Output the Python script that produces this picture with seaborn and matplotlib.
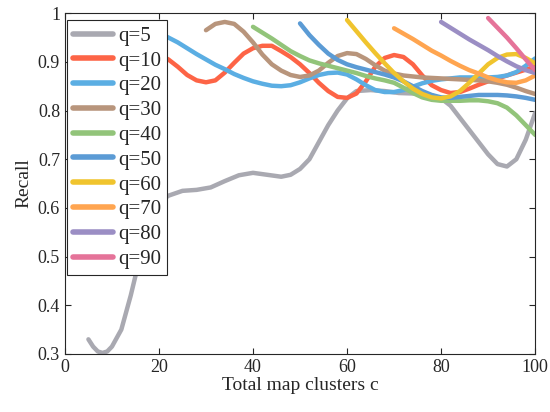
import numpy as np
import pandas as pd
import seaborn as sns
import matplotlib.pyplot as plt

# recall curves, one per q (start at c = q)
x5 = [5, 6, 7, 8, 9, 10, 12, 14, 16, 18, 20, 22, 25, 28, 31, 34, 37, 40, 43, 46, 48, 50, 52, 54, 56, 58,
      60, 62, 65, 68, 71, 74, 77, 80, 82, 84, 86, 88, 90, 92, 94, 96, 98, 100]
y5 = [0.33, 0.315, 0.305, 0.302, 0.305, 0.315, 0.35, 0.42, 0.50, 0.57, 0.61, 0.625, 0.635, 0.637, 0.642,
      0.655, 0.667, 0.672, 0.668, 0.664, 0.668, 0.68, 0.70, 0.735, 0.77, 0.80, 0.825, 0.84, 0.842, 0.84,
      0.836, 0.835, 0.834, 0.825, 0.81, 0.785, 0.76, 0.735, 0.71, 0.69, 0.685, 0.70, 0.74, 0.795]

x10 = list(range(10, 101, 2))
y10 = [0.96, 0.965, 0.955, 0.94, 0.925, 0.915, 0.905, 0.89, 0.873, 0.862, 0.858, 0.862, 0.878, 0.898,
       0.917, 0.928, 0.933, 0.933, 0.922, 0.91, 0.895, 0.877, 0.857, 0.84, 0.828, 0.826, 0.835, 0.86,
       0.89, 0.908, 0.914, 0.91, 0.895, 0.872, 0.852, 0.842, 0.836, 0.838, 0.845, 0.853, 0.86, 0.866,
       0.872, 0.878, 0.884, 0.89]

x20 = list(range(20, 101, 2))
y20 = [0.96, 0.95, 0.94, 0.928, 0.916, 0.905, 0.894, 0.885, 0.875, 0.867, 0.86, 0.855, 0.851, 0.85,
       0.852, 0.858, 0.866, 0.873, 0.877, 0.878, 0.874, 0.864, 0.852, 0.842, 0.838, 0.838, 0.842, 0.849,
       0.856, 0.861, 0.864, 0.866, 0.868, 0.868, 0.868, 0.868, 0.869, 0.872, 0.879, 0.892, 0.907]

x30 = list(range(30, 101, 2))
y30 = [0.965, 0.978, 0.982, 0.978, 0.962, 0.94, 0.915, 0.895, 0.882, 0.873, 0.869, 0.872, 0.882, 0.898,
       0.912, 0.918, 0.916, 0.906, 0.893, 0.882, 0.876, 0.872, 0.87, 0.868, 0.867, 0.866, 0.865, 0.864,
       0.863, 0.862, 0.86, 0.857, 0.853, 0.847, 0.84, 0.834]

x40 = list(range(40, 101, 2))
y40 = [0.972, 0.96, 0.948, 0.935, 0.922, 0.912, 0.903, 0.897, 0.892, 0.887, 0.882, 0.877, 0.871, 0.866,
       0.862, 0.857, 0.847, 0.836, 0.827, 0.822, 0.82, 0.82, 0.82, 0.821, 0.821, 0.819, 0.815, 0.806,
       0.79, 0.77, 0.75]

x50 = list(range(50, 101, 2))
y50 = [0.979, 0.955, 0.935, 0.917, 0.904, 0.895, 0.889, 0.884, 0.879, 0.874, 0.868, 0.86, 0.85, 0.84,
       0.832, 0.827, 0.826, 0.828, 0.83, 0.832, 0.832, 0.832, 0.831, 0.829, 0.826, 0.822]

x60 = list(range(60, 101, 2))
y60 = [0.986, 0.963, 0.94, 0.918, 0.897, 0.877, 0.86, 0.845, 0.834, 0.827, 0.825, 0.829, 0.84, 0.857,
       0.876, 0.895, 0.908, 0.915, 0.916, 0.908, 0.897]

x70 = list(range(70, 101, 2))
y70 = [0.969, 0.958, 0.947, 0.935, 0.923, 0.913, 0.902, 0.892, 0.883, 0.876, 0.868, 0.862, 0.858, 0.857,
       0.862, 0.872]

x80 = list(range(80, 101, 2))
y80 = [0.982, 0.97, 0.958, 0.946, 0.935, 0.924, 0.912, 0.901, 0.891, 0.883, 0.877]

x90 = list(range(90, 101, 2))
y90 = [0.99, 0.97, 0.95, 0.928, 0.905, 0.883]

labels = ["q=5", "q=10", "q=20", "q=30", "q=40", "q=50", "q=60", "q=70", "q=80", "q=90"]
xs = [x5, x10, x20, x30, x40, x50, x60, x70, x80, x90]
ys = [y5, y10, y20, y30, y40, y50, y60, y70, y80, y90]
colors = ["#A9A9B1", "#FD6446", "#5BAEE3", "#B8957C", "#92C47A",
          "#5B9BD5", "#F0C42E", "#FFA550", "#9B8EC4", "#E57399"]

df = pd.concat([pd.DataFrame({"c": x, "recall": y, "q": lab})
                for x, y, lab in zip(xs, ys, labels)], ignore_index=True)

sns.set_style("ticks")
plt.rcParams['font.family'] = ['Liberation Serif', 'DejaVu Serif']

fig = plt.figure(figsize=(5.5, 4.12), dpi=100)
ax = fig.add_axes([0.118, 0.141, 0.855, 0.827])

sns.lineplot(data=df, x="c", y="recall", hue="q", hue_order=labels, palette=colors,
             sort=False, estimator=None, linewidth=3.2, ax=ax)

ax.set_xlim(0, 100)
ax.set_ylim(0.3, 1.0)
ax.set_xticks([0, 20, 40, 60, 80, 100])
ax.set_yticks(np.arange(0.3, 1.01, 0.1))
ax.set_yticklabels(["0.3", "0.4", "0.5", "0.6", "0.7", "0.8", "0.9", "1"])
ax.tick_params(direction="in", top=True, right=True, labelsize=13, length=4, color="#262626")
for s in ax.spines.values():
    s.set_visible(True)
    s.set_color("#262626")
    s.set_linewidth(0.8)
ax.set_xlabel("Total map clusters c", fontsize=14, labelpad=1)
ax.set_ylabel("Recall", fontsize=14, labelpad=4)

leg = ax.legend(loc="upper left", bbox_to_anchor=(0.004, 0.98), fontsize=15, frameon=True,
                fancybox=False, handlelength=1.9, handletextpad=0.25, labelspacing=0.25,
                borderaxespad=0.0, borderpad=0.3)
leg.get_frame().set_edgecolor("#262626")
leg.get_frame().set_linewidth(0.8)
leg.get_frame().set_alpha(1)
for line in leg.get_lines():
    line.set_linewidth(4)

fig.savefig("out.png", dpi=100)
